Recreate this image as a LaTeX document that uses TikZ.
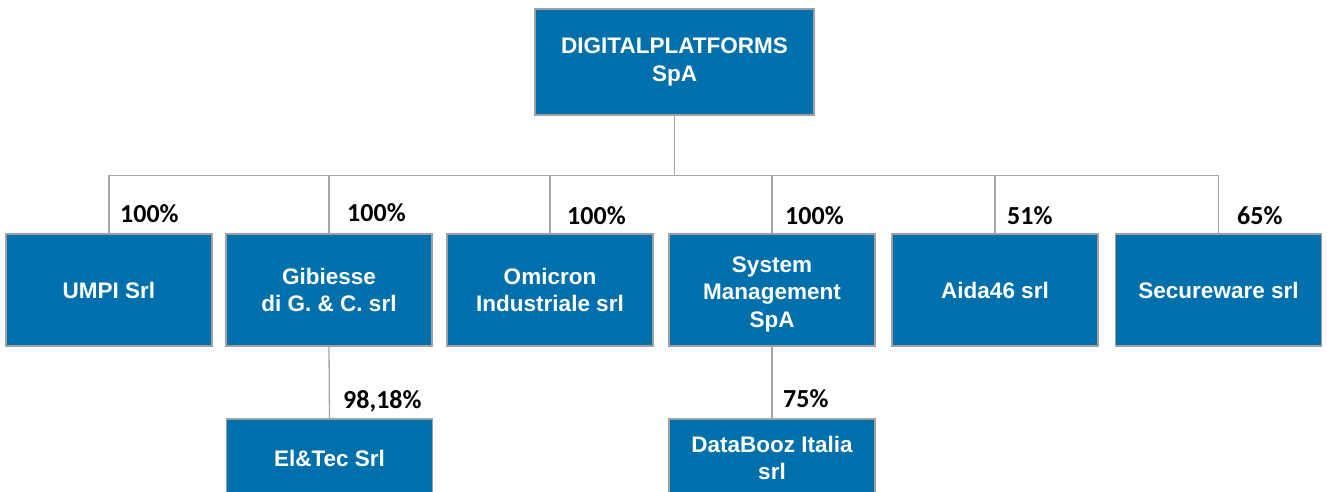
\documentclass[tikz,border=0pt]{standalone}
\usepackage{fontspec}
\setmainfont{Liberation Sans}
\newfontfamily\pctfont{Carlito}
\definecolor{boxblue}{RGB}{0,112,173}
\definecolor{boxrule}{RGB}{160,160,160}
\definecolor{linkgray}{RGB}{166,166,166}
\begin{document}
\begin{tikzpicture}[x=1pt, y=-1pt,
        company/.style={draw=boxrule, line width=1.5pt, fill=boxblue,
            text=white, font=\fontsize{22.5}{27.5}\selectfont\bfseries,
            align=center, minimum width=206pt, minimum height=112pt,
            inner sep=0pt},
        share/.style={anchor=base west, inner sep=0pt,
            font=\pctfont\fontsize{26}{30}\selectfont\bfseries},
        link/.style={draw=linkgray, line width=1.3pt}]
    \useasboundingbox (0, 0) rectangle (1327, 491);
    \clip (0, 0) rectangle (1327, 491);
    % holding company
    \node [company, minimum width=279pt, minimum height=106pt] (dp)
        at (674.5, 62) {DIGITALPLATFORMS\\SpA};
    % first level
    \node [company] (umpi) at (109, 290) {UMPI Srl};
    \node [company] (gib) at (329, 290) {Gibiesse\\di G. \& C. srl};
    \node [company] (omi) at (550, 290) {Omicron\\Industriale srl};
    \node [company] (sysm) at (772, 290)
        {\\[-3pt]System\\Management\\SpA};
    \node [company] (aida) at (995, 290) {Aida46 srl};
    \node [company] (sec) at (1218.5, 290) {Secureware srl};
    % second level
    \node [company, minimum height=78pt] (eltec) at (329.5, 458)
        {El\&Tec Srl};
    \node [company, minimum height=78pt] (dbz) at (772, 458)
        {DataBooz Italia\\srl};
    % links
    \foreach \c in {umpi, gib, omi, sysm, aida, sec}
        \draw [link] (dp.south) -- ++(0, 60) -| (\c.north);
    \draw [link] (gib.south) -- (eltec.north);
    \draw [link] (sysm.south) -- (dbz.north);
    % shares
    \node [share] (s1) at (120, 222) {100\%};
    \node [share] (s2) at (347, 221) {100\%};
    \node [share] (s3) at (567, 224) {100\%};
    \node [share] (s4) at (785, 224) {100\%};
    \node [share] (s5) at (1007, 224) {51\%};
    \node [share] (s6) at (1237, 224) {65\%};
    \node [share] (s7) at (343, 408) {98,18\%};
    \node [share] (s8) at (783, 407) {75\%};
\end{tikzpicture}
\end{document}
